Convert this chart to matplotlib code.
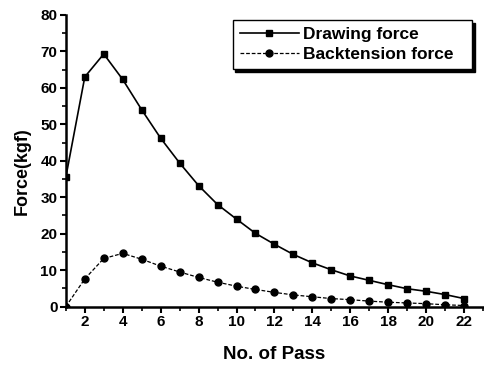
import matplotlib.pyplot as plt
from matplotlib.ticker import MultipleLocator

plt.rcParams['font.family'] = ['Liberation Sans', 'DejaVu Sans']
plt.rcParams['font.weight'] = 'bold'

# Pass number and measured forces (kgf)
passes = list(range(1, 23))
drawing_force = [35.5, 63.0, 69.3, 62.3, 54.0, 46.2, 39.4, 33.2, 28.0, 24.0, 20.1,
                 17.1, 14.3, 12.0, 10.1, 8.4, 7.2, 6.0, 4.9, 4.2, 3.3, 2.2]
backtension_force = [0.0, 7.6, 13.2, 14.6, 13.0, 11.1, 9.5, 8.0, 6.7, 5.6, 4.7,
                     3.9, 3.2, 2.7, 2.2, 1.9, 1.5, 1.2, 1.0, 0.8, 0.5, 0.3]

fig = plt.figure(figsize=(4.84, 3.65), dpi=100)
ax = fig.add_axes([0.136, 0.160, 0.862, 0.799])

ax.plot(passes, drawing_force, color='black', lw=1.2, marker='s', ms=5,
        label='Drawing force')
ax.plot(passes, backtension_force, color='black', lw=0.9, ls=(0, (3, 1.5)),
        marker='o', ms=5, label='Backtension force')

ax.set_xlim(1, 23)
ax.set_ylim(0, 80)
ax.xaxis.set_minor_locator(MultipleLocator(1))
ax.yaxis.set_major_locator(MultipleLocator(10))
ax.yaxis.set_minor_locator(MultipleLocator(5))
ax.set_xticks(range(2, 23, 2))

for side in ['top', 'right']:
    ax.spines[side].set_visible(False)
for side in ['left', 'bottom']:
    ax.spines[side].set_linewidth(1.8)

ax.tick_params(which='major', length=4, width=1.5, labelsize=11, pad=2)
ax.tick_params(which='minor', length=3, width=1.2)
for lbl in ax.get_xticklabels() + ax.get_yticklabels():
    lbl.set_fontweight('bold')

ax.set_xlabel('No. of Pass', fontsize=13.5, fontweight='bold', labelpad=12)
ax.set_ylabel('Force(kgf)', fontsize=13, fontweight='bold')
ax.yaxis.set_label_coords(-0.085, 0.465)

# legend box stretched over a fixed span, entries left-aligned
leg = ax.legend(loc='upper left', bbox_to_anchor=(0.400, 0.783, 0.573, 0.2),
                mode='expand', borderaxespad=0, frameon=True, fancybox=False,
                shadow={'color': 'black', 'alpha': 1.0}, edgecolor='black',
                prop={'weight': 'bold', 'size': 12.5}, handlelength=3.4,
                handletextpad=0.25, labelspacing=0.3, borderpad=0.4)
leg.get_frame().set_linewidth(1.0)
leg.get_frame().set_alpha(1.0)

fig.savefig('out.png', dpi=100)
